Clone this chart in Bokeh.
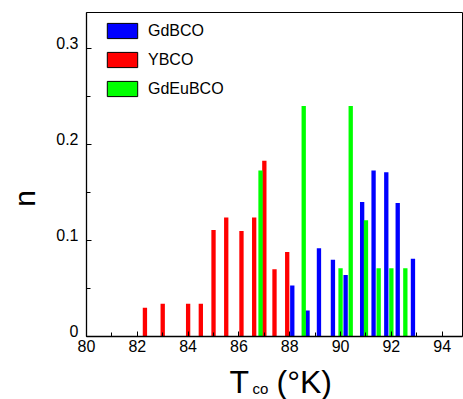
import math
from bokeh.plotting import figure
from bokeh.layouts import column, row
from bokeh.models import (ColumnDataSource, FixedTicker, Label, Legend, LegendItem,
                          LinearAxis, Range1d)
from bokeh.embed import file_html
from bokeh.resources import INLINE

# ---- data ----
series_names = ["GdBCO", "YBCO", "GdEuBCO"]
series_colors = ["#0000FF", "#FF0000", "#00FF00"]

gdbco_t = [88.1, 88.7, 89.15, 89.7, 90.2, 90.85, 91.3, 91.8, 92.25, 92.85]
gdbco_n = [0.053, 0.027, 0.092, 0.080, 0.064, 0.140, 0.173, 0.171, 0.139, 0.081]

ybco_t = [82.3, 83.0, 84.0, 84.5, 85.0, 85.5, 86.1, 86.6, 87.0, 87.4, 87.9]
ybco_n = [0.030, 0.034, 0.034, 0.034, 0.111, 0.124, 0.110, 0.124, 0.183, 0.070, 0.088]

gdeubco_t = [86.85, 88.55, 90.0, 90.4, 91.0, 91.5, 92.0, 92.55]
gdeubco_n = [0.173, 0.240, 0.071, 0.240, 0.121, 0.071, 0.071, 0.071]

x_ticks = [80, 82, 84, 86, 88, 90, 92, 94]
x_minor = [81, 83, 85, 87, 89, 91, 93]
y_ticks = [0, 0.1, 0.2, 0.3]
y_tick_labels = ["0", "0.1", "0.2", "0.3"]
y_minor = [0.05, 0.15, 0.25]

x_title_main = "T"
x_title_sub = "co"
x_title_unit = "(°K)"
y_title = "n"

FONT = "Liberation Sans"
FRAME_H = 324
Y_START, Y_END = 0, 0.3375

# ---- main plot ----
p = figure(width=423, height=363, output_backend="svg", toolbar_location=None,
           x_range=Range1d(80, 94.8), y_range=Range1d(Y_START, Y_END),
           min_border_left=46, min_border_right=1, min_border_top=12, min_border_bottom=27)
p.grid.visible = False
p.outline_line_color = "black"
p.outline_line_width = 1
p.background_fill_color = "white"
p.border_fill_color = "white"

legend_items = []
for name, color, xs, ns in zip(series_names, series_colors,
                               [gdbco_t, ybco_t, gdeubco_t],
                               [gdbco_n, ybco_n, gdeubco_n]):
    src = ColumnDataSource(dict(x=xs, n=ns))
    p.vbar(x="x", top="n", width=0.17, source=src, fill_color=color, line_color=None)
    # zero-height swatch renderer (hidden on the axis line) -> outlined legend key
    lr = p.vbar(x="x", top=0, bottom=0, width=0.17, source=src, fill_color=color,
                line_color="black", line_width=1)
    legend_items.append(LegendItem(label=name, renderers=[lr]))

legend = Legend(items=legend_items, location=(17, 238), padding=0, margin=0,
                spacing=10, glyph_width=38, glyph_height=19, label_height=19,
                label_standoff=7, label_text_font=FONT, label_text_font_size="16px",
                label_text_color="black",
                border_line_color=None, background_fill_alpha=0)
p.add_layout(legend)

for ax in (p.xaxis[0], p.yaxis[0]):
    ax.axis_line_color = "black"
    ax.axis_line_width = 1.3
    ax.major_tick_line_color = "black"
    ax.minor_tick_line_color = "black"
    ax.major_tick_in = 5
    ax.major_tick_out = 0
    ax.minor_tick_in = 4
    ax.minor_tick_out = 0
    ax.major_label_text_font = FONT
    ax.major_label_text_font_size = "16px"
    ax.major_label_text_color = "black"

p.xaxis.ticker = FixedTicker(ticks=x_ticks, minor_ticks=x_minor)
p.xaxis.major_label_standoff = 3

# y axis: tick marks only (its own labels are switched off)
p.yaxis.ticker = FixedTicker(ticks=y_ticks, minor_ticks=y_minor)
p.yaxis.major_label_text_color = None
p.yaxis.major_label_standoff = 0

# y tick labels sit just above their ticks (as in the original)
dy = 5.5 * (Y_END - Y_START) / FRAME_H
y_label_pos = [t + dy for t in y_ticks]
ylab = LinearAxis(ticker=FixedTicker(ticks=y_label_pos, minor_ticks=[]),
                  major_label_overrides={pos: s for pos, s in zip(y_label_pos, y_tick_labels)},
                  axis_line_color=None, major_tick_line_color=None, minor_tick_line_color=None,
                  major_tick_in=0, major_tick_out=0, minor_tick_in=0, minor_tick_out=0,
                  major_label_standoff=8, major_label_text_font=FONT,
                  major_label_text_font_size="16px", major_label_text_color="black")
p.add_layout(ylab, "left")

# ---- y title panel (frame aligned with main frame) ----
pl = figure(width=40, height=363, output_backend="svg", toolbar_location=None,
            x_range=Range1d(0, 40), y_range=Range1d(0, FRAME_H),
            x_axis_type=None, y_axis_type=None, min_border=0)
pl.grid.visible = False
pl.outline_line_color = None
pl.add_layout(Label(x=23.5, y=138, text=y_title, angle=math.pi / 2,
                    text_align="center", text_baseline="alphabetic",
                    text_font=FONT, text_font_size="30px", text_color="black"))

# ---- x title panel ----
pb = figure(width=463, height=36, output_backend="svg", toolbar_location=None,
            x_range=Range1d(0, 463), y_range=Range1d(0, 36),
            x_axis_type=None, y_axis_type=None, min_border=0)
pb.grid.visible = False
pb.outline_line_color = None
pb.add_layout(Label(x=229, y=17.3, text=x_title_main, text_align="left",
                    text_baseline="alphabetic", text_font=FONT,
                    text_font_size="32px", text_color="black"))
pb.add_layout(Label(x=252, y=11.5, text=x_title_sub, text_align="left",
                    text_baseline="alphabetic", text_font=FONT,
                    text_font_size="15px", text_color="black"))
pb.add_layout(Label(x=276, y=17.3, text=x_title_unit, text_align="left",
                    text_baseline="alphabetic", text_font=FONT,
                    text_font_size="32px", text_color="black"))

layout = column(row(pl, p), pb)
open("out.html", "w").write(file_html(layout, INLINE))
